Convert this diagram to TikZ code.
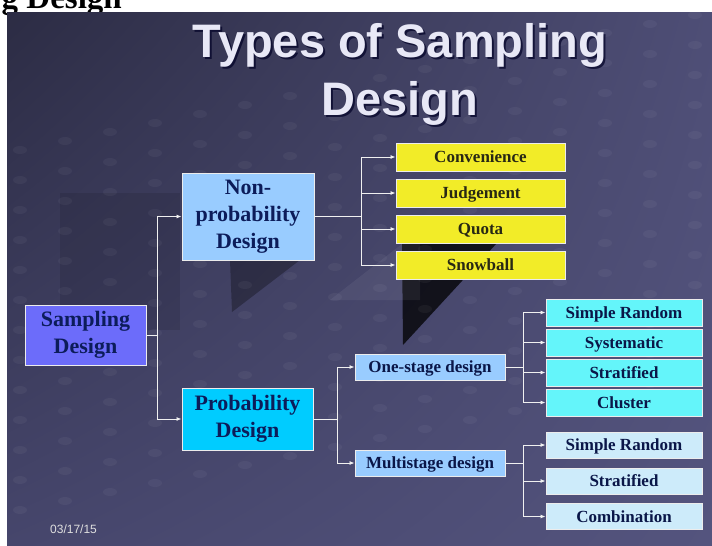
\documentclass[tikz,border=0pt]{standalone}
\usepackage{fontspec}
\setmainfont{Liberation Serif}
\newfontfamily\headfont{Liberation Sans}
\usetikzlibrary{arrows.meta,shadings}

\definecolor{slideA}{RGB}{44,44,68}
\definecolor{slideB}{RGB}{78,78,118}
\definecolor{slideC}{RGB}{70,70,108}
\definecolor{slideD}{RGB}{84,84,126}
\definecolor{titlewhite}{RGB}{232,232,246}
\definecolor{sampblue}{RGB}{108,108,250}
\definecolor{skyblue}{RGB}{153,204,255}
\definecolor{probcyan}{RGB}{0,204,255}
\definecolor{kindyellow}{RGB}{242,236,40}
\definecolor{aquabox}{RGB}{100,245,250}
\definecolor{paleblue}{RGB}{205,235,250}
\definecolor{boxnavy}{RGB}{12,28,90}
\definecolor{kindtext}{RGB}{40,40,20}

\tikzset{
  headline/.style={font=\headfont\bfseries\fontsize{47}{58}\selectfont, anchor=base, inner sep=0pt, text=titlewhite},
  box/.style={draw=white!85!gray, line width=1pt, inner sep=0pt, minimum height=27pt,
    text height=11.5pt, text depth=0pt,
    font=\bfseries\fontsize{17}{20}\selectfont, text=boxnavy!80!black},
  bigbox/.style={box, font=\bfseries\fontsize{22}{27}\selectfont, align=center, text=boxnavy,
    text height=, text depth=},
  kind/.style={box, fill=kindyellow, text=kindtext, minimum width=169pt, minimum height=28pt},
  stagebox/.style={box, fill=skyblue, minimum width=150pt, minimum height=26pt},
  onebox/.style={box, fill=aquabox, minimum width=156pt},
  multibox/.style={box, fill=paleblue, minimum width=156pt, minimum height=26pt},
  link/.style={draw=white!88!gray, line width=0.8pt},
  arr/.style={link, -{Latex[length=5pt,width=4pt]}},
}

\begin{document}
\begin{tikzpicture}[x=1pt, y=-1pt]
  \useasboundingbox (0,0) rectangle (712,546);
  \fill[white] (0,0) rectangle (712,546);
  \node[anchor=base east, inner sep=0pt, font=\bfseries\fontsize{33}{36}\selectfont] (runhead) at (122,9) {g Design};

  % slide background
  \shade[upper left=slideA, upper right=slideB, lower left=slideC, lower right=slideD] (7,12) rectangle (712,546);
  \fill[black, opacity=.1] (60,193) rectangle (180,330);
  \fill[black, opacity=.3] (230,260) -- (300,260) -- (232,312) -- cycle;
  \fill[black, opacity=.75] (402,243) -- (497,243) -- (403,345) -- cycle;
  \fill[white, opacity=.06] (330,300) -- (420,230) -- (420,300) -- cycle;
  \foreach \r in {0,...,12}
    \foreach \c in {0,...,15}
      \fill[white, opacity=.045] (20+45*\c, 150+30*\r-9*\c) ellipse (7 and 4);

  % title with its shadow
  \foreach \txt/\yy [count=\k] in {Types of Sampling/57, Design/115} {
    \node[headline, text=black!85!blue, opacity=.7] (shadow\k) at (402,\yy+2) {\txt};
    \node[headline] (title\k) at (400,\yy) {\txt};
  }

  % boxes
  \node[bigbox, fill=sampblue, minimum width=121pt, minimum height=60pt] (samp) at (85.5,335) {Sampling\\Design};
  \node[bigbox, fill=skyblue, minimum width=132pt, minimum height=87pt] (nonprob) at (248,216.5) {Non-\\probability\\Design};
  \node[bigbox, fill=probcyan, minimum width=131pt, minimum height=62pt] (prob) at (247.5,419) {Probability\\Design};

  \foreach \name/\txt/\yy in {conv/Convenience/157, judg/Judgement/193, quota/Quota/229, snow/Snowball/265}
    \node[kind] (\name) at (480.5,\yy) {\txt};

  \node[stagebox] (onestage) at (430,367) {One-stage design};
  \node[stagebox] (multistage) at (430,463) {Multistage design};

  \foreach \name/\txt/\yy in {osrand/Simple Random/312.5, ossys/Systematic/342.5, osstrat/Stratified/372.5, osclus/Cluster/402.5}
    \node[onebox] (\name) at (624,\yy) {\txt};
  \foreach \name/\txt/\yy in {msrand/Simple Random/445, msstrat/Stratified/481, mscomb/Combination/516.5}
    \node[multibox] (\name) at (624,\yy) {\txt};

  % connectors
  \draw[link] (samp.east) -- ++(11,0) coordinate (sampfork);
  \draw[arr] (sampfork) |- (nonprob.west);
  \draw[arr] (sampfork) |- (prob.west);
  \draw[link] (nonprob.east) -- ++(47,0) coordinate (npfork);
  \foreach \name in {conv,judg,quota,snow}
    \draw[arr] (npfork) |- (\name.west);
  \draw[link] (prob.east) -- ++(24,0) coordinate (pfork);
  \foreach \name in {onestage,multistage}
    \draw[arr] (pfork) |- (\name.west);
  \draw[link] (onestage.east) -- ++(18,0) coordinate (osfork);
  \foreach \name in {osrand,ossys,osstrat,osclus}
    \draw[arr] (osfork) |- (\name.west);
  \draw[link] (multistage.east) -- ++(18,0) coordinate (msfork);
  \foreach \name in {msrand,msstrat,mscomb}
    \draw[arr] (msfork) |- (\name.west);

  \node[anchor=base west, inner sep=0pt, text=gray!25, font=\headfont\fontsize{12}{14}\selectfont] (date) at (50,533) {03/17/15};
\end{tikzpicture}
\end{document}
